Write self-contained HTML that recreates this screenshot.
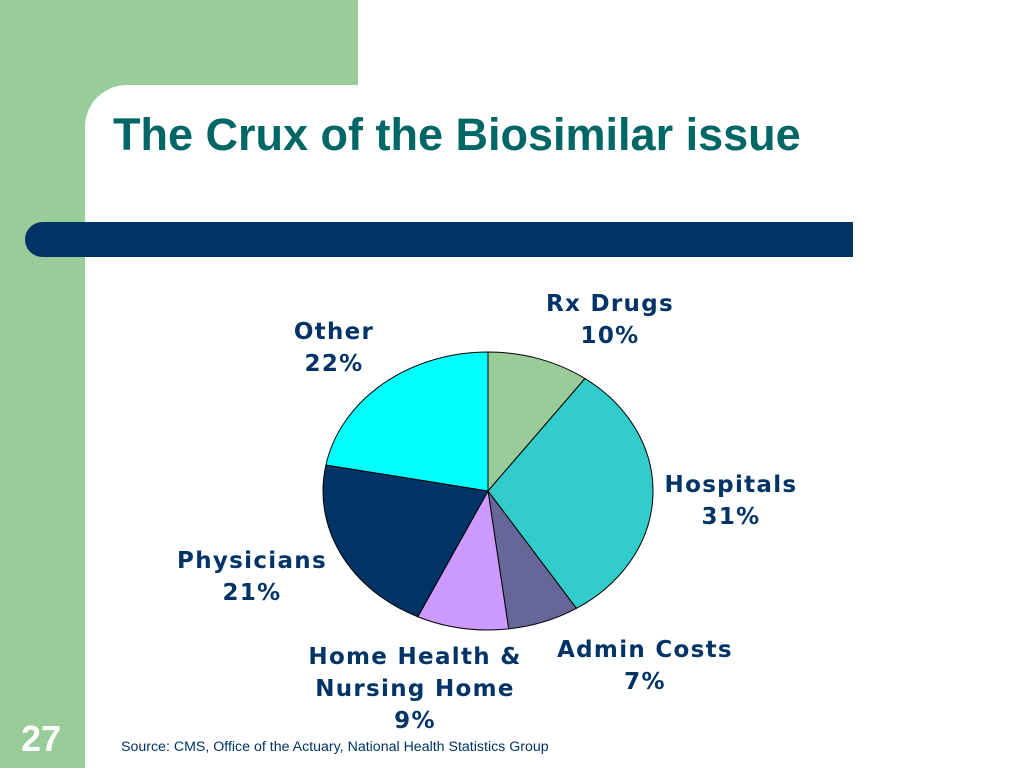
<!DOCTYPE html>
<html><head><meta charset="utf-8"><style>
body{margin:0;width:1024px;height:768px;position:relative;overflow:hidden;background:#99CC99;font-family:"Liberation Sans",sans-serif}
#card{position:absolute;left:85px;top:85px;width:939px;height:683px;background:#fff;border-top-left-radius:42px}
#topwhite{position:absolute;left:358px;top:0;width:666px;height:85px;background:#fff}
h1{position:absolute;left:113px;top:109px;margin:0;font-size:45px;font-weight:bold;color:#006666;white-space:nowrap}
#bar{position:absolute;left:25px;top:222px;width:828px;height:35px;background:#003366;border-radius:18px 0 0 18px}
.lbl{position:absolute;font-family:"DejaVu Sans",sans-serif;font-size:23px;font-weight:bold;color:#003366;text-align:center;line-height:32px;white-space:nowrap;letter-spacing:1.3px}
#pg{position:absolute;left:21px;top:718px;font-size:36px;font-weight:bold;color:#fff}
#src{position:absolute;left:121px;top:739px;font-size:14.2px;color:#003366}
</style></head><body>
<div id="topwhite"></div>
<div id="card"></div>
<h1>The Crux of the Biosimilar issue</h1>
<div id="bar"></div>
<svg id="pie" width="1024" height="768" style="position:absolute;left:0;top:0"></svg>
<div class="lbl" style="left:510px;top:288px;width:200px">Rx Drugs<br>10%</div>
<div class="lbl" style="left:244px;top:316px;width:180px">Other<br>22%</div>
<div class="lbl" style="left:631px;top:469px;width:200px">Hospitals<br>31%</div>
<div class="lbl" style="left:142px;top:545px;width:220px">Physicians<br>21%</div>
<div class="lbl" style="left:520px;top:634px;width:250px">Admin Costs<br>7%</div>
<div class="lbl" style="left:270px;top:641px;width:290px">Home Health &amp;<br>Nursing Home<br>9%</div>
<div id="pg">27</div>
<div id="src">Source: CMS, Office of the Actuary, National Health Statistics Group</div>
<script>
const categories=["Rx Drugs","Hospitals","Admin Costs","Home Health & Nursing Home","Physicians","Other"];
const values=[10,31,7,9,21,22];
const colors=["#99CC99","#33CCCC","#666699","#CC99FF","#003366","#00FFFF"];
const svg=document.getElementById('pie');
const cx=488,cy=491,rx=165,ry=139;
const total=values.reduce((a,b)=>a+b,0);
let a0=0;
function pt(a){return [cx+rx*Math.sin(a),cy-ry*Math.cos(a)];}
values.forEach((v,i)=>{
  const a1=a0+v/total*2*Math.PI;
  const p0=pt(a0),p1=pt(a1);
  const large=(a1-a0)>Math.PI?1:0;
  const p=document.createElementNS('http://www.w3.org/2000/svg','path');
  p.setAttribute('d',`M${cx},${cy} L${p0[0]},${p0[1]} A${rx},${ry} 0 ${large} 1 ${p1[0]},${p1[1]} Z`);
  p.setAttribute('fill',colors[i]);
  p.setAttribute('stroke','#000');
  p.setAttribute('stroke-width','1');
  
  
  svg.appendChild(p);
  a0=a1;
});
</script>
</body></html>
